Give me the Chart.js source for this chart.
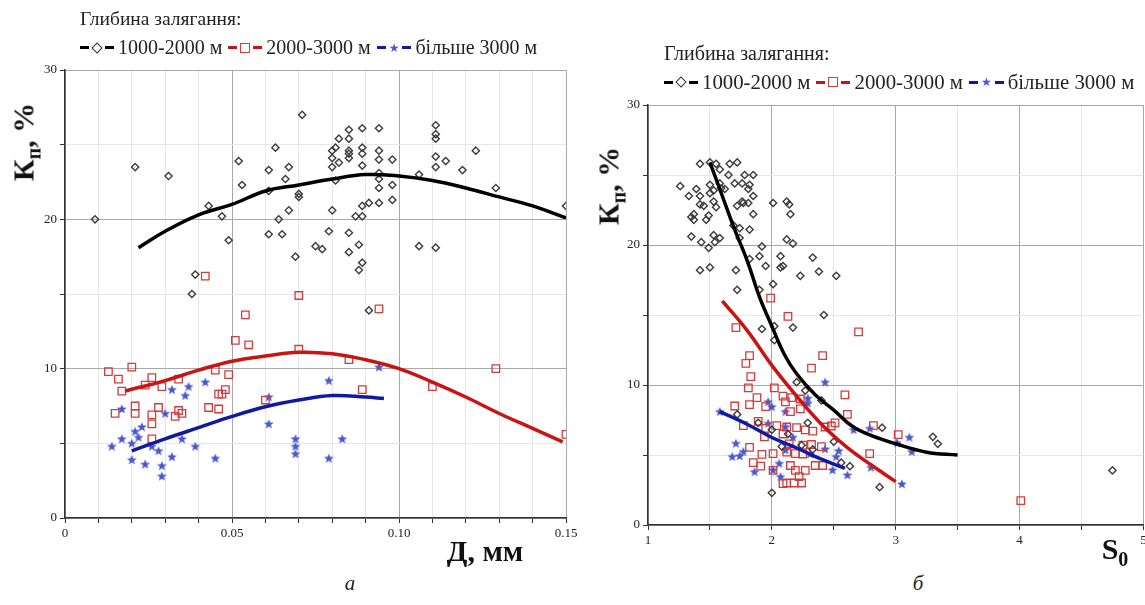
<!DOCTYPE html>
<html>
<head>
<meta charset="utf-8">
<script src="https://cdn.jsdelivr.net/npm/chart.js@4.4.0/dist/chart.umd.min.js"></script>
<style>
  body { margin: 0; width: 1145px; height: 605px; background: #fff; position: relative; overflow: hidden;
         font-family: "Liberation Serif", serif; color: #222; }
  canvas { position: absolute; }
  #chartA { left: 0; top: 0; }
  #chartB { left: 585px; top: 0; }
  .t { position: absolute; white-space: nowrap; }
  .legTitle { font-size: 19.5px; }
  .legRow { display: flex; align-items: center; font-size: 20px; }
  .big .legTitle, .legTitle.big { font-size: 20px; }
  .legRow.big { font-size: 20.8px; }
  .sym { display: inline-flex; align-items: center; margin: 0 4px 0 6px; }
  .sym:first-child { margin-left: 0; }
  .bar { display: inline-block; width: 9px; height: 3px; }
  .dia { display: inline-block; width: 6px; height: 6px; border: 1.5px solid #333; transform: rotate(45deg); margin: 0 4px; }
  .sq { display: inline-block; width: 8px; height: 8px; border: 1.5px solid #d23c3c; margin: 0 3px; }
  .star { color: #4a58cc; font-family: "DejaVu Sans"; font-size: 12px; margin: 0 3px; }
  .axTitle { font-weight: bold; font-size: 30px; color: #111; }
  .rot { transform: translate(-50%, -50%) rotate(-90deg); }
  .ctr { transform: translate(-50%, -50%); }
  .axTitle sub { font-size: 20px; }
  .cap { font-style: italic; font-size: 21px; }
</style>
</head>
<body>
<canvas id="chartA" width="585" height="560"></canvas>
<canvas id="chartB" width="565" height="560"></canvas>

<div class="t legTitle" style="left:80px;top:8px">Глибина залягання:</div>
<div class="t legRow" style="left:80px;top:36px">
  <span class="sym"><i class="bar" style="background:#000"></i><i class="dia"></i><i class="bar" style="background:#000"></i></span><span>1000-2000 м</span>
  <span class="sym"><i class="bar" style="background:#c81414"></i><i class="sq"></i><i class="bar" style="background:#c81414"></i></span><span>2000-3000 м</span>
  <span class="sym"><i class="bar" style="background:#101aa0"></i><span class="star">★</span><i class="bar" style="background:#101aa0"></i></span><span>більше 3000 м</span>
</div>

<div class="t legTitle big" style="left:664px;top:42px">Глибина залягання:</div>
<div class="t legRow big" style="left:664px;top:70px">
  <span class="sym"><i class="bar" style="background:#000"></i><i class="dia"></i><i class="bar" style="background:#000"></i></span><span>1000-2000 м</span>
  <span class="sym"><i class="bar" style="background:#c81414"></i><i class="sq"></i><i class="bar" style="background:#c81414"></i></span><span>2000-3000 м</span>
  <span class="sym"><i class="bar" style="background:#101aa0"></i><span class="star">★</span><i class="bar" style="background:#101aa0"></i></span><span>більше 3000 м</span>
</div>

<div class="t axTitle rot" style="left:26px;top:142px">К<sub>п</sub>, %</div>
<div class="t axTitle rot" style="left:611px;top:186px">К<sub>п</sub>, %</div>
<div class="t axTitle ctr" style="left:485px;top:551px">Д, мм</div>
<div class="t axTitle ctr" style="left:1115px;top:551px">S<sub>0</sub></div>
<div class="t cap ctr" style="left:350px;top:583px">а</div>
<div class="t cap ctr" style="left:918px;top:583px">б</div>

<script>
// panel а: porosity vs grain size
const grainBlack = [
  [0.009,20.0],[0.021,23.5],[0.031,22.9],[0.038,15.0],[0.039,16.3],[0.043,20.9],[0.047,20.2],[0.049,18.6],
  [0.052,23.9],[0.053,22.3],[0.061,23.3],[0.061,21.9],[0.061,19.0],[0.063,24.8],[0.064,20.0],[0.065,19.0],
  [0.066,22.7],[0.067,23.5],[0.067,20.6],[0.069,17.5],[0.070,21.7],[0.070,21.5],[0.071,27.0],[0.075,18.2],
  [0.077,18.0],[0.079,19.2],[0.080,20.6],[0.080,23.5],[0.080,24.1],[0.081,22.6],[0.080,24.6],[0.081,24.8],
  [0.082,23.8],[0.082,25.4],[0.085,26.0],[0.085,25.4],[0.085,24.6],[0.085,24.4],[0.085,24.1],[0.085,19.1],
  [0.085,17.8],[0.087,20.2],[0.089,20.2],[0.088,18.3],[0.088,16.6],[0.089,17.1],[0.089,20.9],[0.089,26.1],
  [0.089,24.8],[0.089,24.4],[0.089,23.6],[0.091,21.1],[0.091,13.9],[0.094,26.1],[0.094,24.6],[0.094,24.0],
  [0.094,23.1],[0.094,22.7],[0.094,22.1],[0.094,21.1],[0.098,24.0],[0.098,22.3],[0.098,21.3],[0.106,23.0],
  [0.106,18.2],[0.111,26.3],[0.111,25.7],[0.111,25.4],[0.111,24.2],[0.111,23.5],[0.111,18.1],[0.114,23.9],
  [0.119,23.3],[0.123,24.6],[0.129,22.1],[0.150,20.9]
];
const grainRed = [
  [0.013,9.8],[0.016,9.3],[0.017,8.5],[0.015,7.0],[0.020,10.1],[0.021,7.5],[0.021,7.0],[0.024,8.9],
  [0.026,9.4],[0.026,6.9],[0.026,6.3],[0.026,5.3],[0.028,7.4],[0.029,8.8],[0.033,6.8],[0.034,9.3],
  [0.034,7.2],[0.035,7.0],[0.042,16.2],[0.043,7.4],[0.045,9.9],[0.046,8.3],[0.046,7.3],[0.047,8.3],
  [0.048,8.6],[0.049,9.6],[0.051,11.9],[0.054,13.6],[0.055,11.6],[0.060,7.9],[0.070,14.9],[0.070,11.3],
  [0.085,10.6],[0.089,8.6],[0.094,14.0],[0.110,8.8],[0.129,10.0],[0.150,5.6]
];
const grainBlue = [
  [0.014,4.8],[0.017,7.3],[0.017,5.3],[0.020,5.0],[0.020,3.9],[0.021,5.8],[0.022,5.4],[0.023,6.1],
  [0.024,3.6],[0.026,4.8],[0.028,4.5],[0.029,3.5],[0.029,2.8],[0.030,7.0],[0.032,4.1],[0.032,8.6],
  [0.035,5.3],[0.036,8.2],[0.037,8.8],[0.039,4.8],[0.042,9.1],[0.045,4.0],[0.061,8.1],[0.061,6.3],
  [0.069,5.3],[0.069,4.8],[0.069,4.3],[0.079,9.2],[0.079,4.0],[0.083,5.3],[0.094,10.1]
];
const grainFitBlack = [[0.022,18.1],[0.03,19.2],[0.04,20.3],[0.05,21.0],[0.06,21.9],[0.07,22.3],[0.08,22.7],
  [0.09,23.0],[0.10,22.9],[0.11,22.6],[0.12,22.1],[0.13,21.5],[0.14,20.9],[0.15,20.1]];
const grainFitRed = [[0.018,8.5],[0.03,9.2],[0.04,9.9],[0.05,10.5],[0.06,10.85],[0.07,11.1],[0.08,11.0],
  [0.09,10.6],[0.10,10.0],[0.11,9.1],[0.12,8.1],[0.13,7.0],[0.14,6.0],[0.149,5.1]];
const grainFitBlue = [[0.020,4.5],[0.03,5.3],[0.04,6.05],[0.05,6.8],[0.06,7.45],[0.07,7.9],[0.08,8.2],
  [0.09,8.1],[0.0955,8.0]];

// panel б: porosity vs sorting coefficient
const sortBlack = [
  [1.42,25.8],[1.50,25.9],[1.55,25.8],[1.66,25.8],[1.72,25.9],[1.58,25.4],[1.65,25.0],[1.26,24.2],
  [1.39,24.0],[1.33,23.5],[1.42,23.5],[1.50,24.3],[1.50,23.7],[1.53,23.9],[1.58,24.4],[1.59,24.05],
  [1.62,24.0],[1.70,24.4],[1.76,24.4],[1.78,25.0],[1.85,25.0],[1.82,24.3],[1.81,24.0],[1.85,23.5],
  [1.42,22.9],[1.45,22.8],[1.53,23.1],[1.55,22.7],[1.72,22.8],[1.76,23.1],[1.77,23.0],[1.81,23.0],
  [1.37,22.2],[1.35,22.0],[1.37,21.8],[1.49,22.1],[1.47,21.8],[1.85,22.2],[2.01,23.0],[2.12,23.1],
  [2.14,22.9],[2.15,22.2],[1.69,21.4],[1.74,21.2],[1.82,21.1],[1.35,20.6],[1.43,20.2],[1.49,19.8],
  [1.53,20.7],[1.58,20.5],[1.54,20.2],[1.74,20.5],[2.12,20.4],[2.17,20.1],[1.92,19.9],[1.90,19.2],
  [1.82,19.0],[2.07,19.2],[1.95,18.5],[2.07,18.4],[2.09,18.5],[2.33,19.1],[2.38,18.1],[2.23,17.8],
  [2.52,17.8],[1.42,18.2],[1.50,18.4],[1.71,18.2],[2.01,17.2],[1.72,16.8],[1.90,16.8],[2.42,15.0],
  [2.02,14.2],[2.02,13.2],[1.92,14.0],[2.17,14.1],[2.20,10.2],[2.27,9.6],[2.40,8.9],[1.72,7.9],
  [1.89,7.3],[2.00,6.8],[2.29,7.3],[2.13,6.5],[2.08,5.6],[2.24,5.7],[2.50,5.95],[2.33,5.4],
  [2.89,6.95],[2.56,4.45],[2.63,4.2],[2.87,2.7],[2.00,2.3],[3.30,6.3],[3.34,5.8],[4.75,3.9]
];
const sortRed = [
  [1.99,16.2],[2.13,14.9],[1.71,14.1],[2.70,13.8],[2.41,12.1],[1.82,12.1],[1.79,11.55],[2.32,11.2],
  [1.83,10.6],[1.81,9.8],[2.02,9.8],[2.59,9.3],[1.88,9.1],[2.09,9.2],[2.16,9.1],[2.23,9.0],
  [2.11,8.8],[1.82,8.6],[1.70,8.5],[1.95,8.45],[2.15,8.1],[2.23,8.3],[2.61,7.9],[1.89,7.4],
  [1.77,7.1],[2.04,7.1],[2.12,7.0],[2.20,6.95],[2.27,6.8],[1.95,6.9],[2.09,6.5],[2.33,6.7],
  [2.43,7.0],[2.48,7.07],[2.51,7.3],[2.82,7.1],[1.94,6.3],[1.82,5.55],[2.14,5.8],[2.25,5.7],
  [2.32,5.75],[2.40,5.6],[2.01,5.1],[1.92,5.05],[2.12,5.2],[2.19,5.1],[2.25,5.07],[2.79,5.1],
  [1.85,4.45],[1.91,4.2],[2.15,4.25],[2.35,4.25],[2.41,4.25],[2.01,3.9],[2.19,3.9],[2.27,3.9],
  [2.22,3.45],[2.09,2.95],[2.12,3.0],[2.18,3.0],[2.24,3.0],[3.02,6.45],[4.01,1.74]
];
const sortBlue = [
  [1.58,8.1],[2.43,10.2],[1.97,8.8],[2.00,8.45],[2.11,8.1],[2.29,9.05],[2.29,8.7],[1.97,7.26],
  [2.11,7.02],[2.17,6.26],[2.43,5.43],[2.66,6.8],[2.79,6.9],[1.71,5.83],[1.77,5.24],[1.68,4.88],
  [1.74,4.93],[1.86,3.8],[2.01,3.93],[2.06,4.4],[2.07,3.45],[2.54,5.3],[2.52,4.88],[2.49,3.93],
  [2.61,3.57],[2.80,4.12],[2.31,5.07],[2.11,5.36],[3.01,5.88],[3.11,6.26],[3.13,5.24],[3.05,2.93]
];
const sortFitBlack = [[1.5,25.9],[1.6,23.5],[1.7,21.1],[1.8,18.9],[1.9,16.3],[2.0,14.2],[2.1,12.2],
  [2.2,10.8],[2.35,9.3],[2.5,8.2],[2.65,7.05],[2.8,6.4],[3.0,5.8],[3.25,5.2],[3.5,5.0]];
const sortFitRed = [[1.6,16.0],[1.8,13.9],[2.0,11.4],[2.2,9.2],[2.4,7.2],[2.6,5.6],[2.8,4.3],[3.0,3.1]];
const sortFitBlue = [[1.58,8.1],[1.8,7.2],[2.0,6.25],[2.2,5.5],[2.4,4.7],[2.59,4.05]];

const xTicksA = [0, 0.05, 0.10, 0.15];
const xTicksB = [1, 2, 3, 4, 5];
const yTicks = [0, 10, 20, 30];

const toXY = arr => arr.map(p => ({ x: p[0], y: p[1] }));

// filled five-point star marker
function starMarker() {
  const c = document.createElement("canvas");
  c.width = 12; c.height = 12;
  const g = c.getContext("2d");
  g.beginPath();
  for (let i = 0; i < 10; i++) {
    const r = i % 2 ? 2.2 : 5.2;
    const a = -Math.PI / 2 + i * Math.PI / 5;
    g.lineTo(6 + r * Math.cos(a), 6.4 + r * Math.sin(a));
  }
  g.closePath();
  g.fillStyle = "#4a58cc";
  g.fill();
  return c;
}
const star = starMarker();

function isOn(v, step) {
  return Math.abs(v / step - Math.round(v / step)) < 1e-6;
}

function fitLine(data, color) {
  return { data: toXY(data), showLine: true, borderColor: color, borderWidth: 3.5,
           pointRadius: 0, tension: 0.4, fill: false };
}

function makePanel(id, sets, xr, pad) {
  const tickFont = { family: "Liberation Serif", size: 13 };
  new Chart(document.getElementById(id), {
    type: "scatter",
    data: {
      datasets: [
        fitLine(sets.fitBlack, "#000"),
        fitLine(sets.fitRed, "#c81414"),
        fitLine(sets.fitBlue, "#101aa0"),
        { data: toXY(sets.black), pointStyle: "rectRot", radius: 3.6, borderColor: "#3c3c3c",
          borderWidth: 1.4, backgroundColor: "rgba(0,0,0,0)" },
        { data: toXY(sets.red), pointStyle: "rect", radius: 5.3, borderColor: "#d23c3c",
          borderWidth: 1.3, backgroundColor: "rgba(0,0,0,0)" },
        { data: toXY(sets.blue), pointStyle: star }
      ]
    },
    options: {
      responsive: false,
      animation: false,
      layout: { padding: pad },
      plugins: { legend: { display: false }, tooltip: { enabled: false } },
      scales: {
        x: {
          min: xr.min, max: xr.max,
          afterFit: s => { s.height = 22; },
          ticks: {
            stepSize: xr.step, autoSkip: false, maxRotation: 0, padding: 3,
            font: tickFont, color: "#222",
            callback: v => {
              const hit = xr.labels.find(l => Math.abs(l - v) < 1e-6);
              return hit === undefined ? "" : (hit === 0 || xr.step >= 0.5 ? String(hit) : hit.toFixed(2));
            }
          },
          grid: {
            color: c => isOn(c.tick.value, xr.major) ? "#a8a8a8" : "#e6e6e6",
            tickColor: "#333", tickLength: 5
          },
          border: { color: "#333", width: 1.5 }
        },
        y: {
          min: 0, max: 30,
          afterFit: s => { s.width = 40; },
          ticks: {
            stepSize: 5, autoSkip: false, padding: 3, font: tickFont, color: "#222",
            callback: v => yTicks.includes(v) ? String(v) : ""
          },
          grid: {
            color: c => isOn(c.tick.value, 10) ? "#a8a8a8" : "#e6e6e6",
            tickColor: "#333", tickLength: 5
          },
          border: { color: "#333", width: 1.5 }
        }
      }
    }
  });
}

makePanel("chartA",
  { black: grainBlack, red: grainRed, blue: grainBlue,
    fitBlack: grainFitBlack, fitRed: grainFitRed, fitBlue: grainFitBlue },
  { min: 0, max: 0.15, step: 0.01, major: 0.05, labels: xTicksA },
  { left: 25, right: 19, top: 70, bottom: 20 });

makePanel("chartB",
  { black: sortBlack, red: sortRed, blue: sortBlue,
    fitBlack: sortFitBlack, fitRed: sortFitRed, fitBlue: sortFitBlue },
  { min: 1, max: 5, step: 0.5, major: 1, labels: xTicksB },
  { left: 23, right: 0, top: 105, bottom: 13 });
</script>
</body>
</html>
